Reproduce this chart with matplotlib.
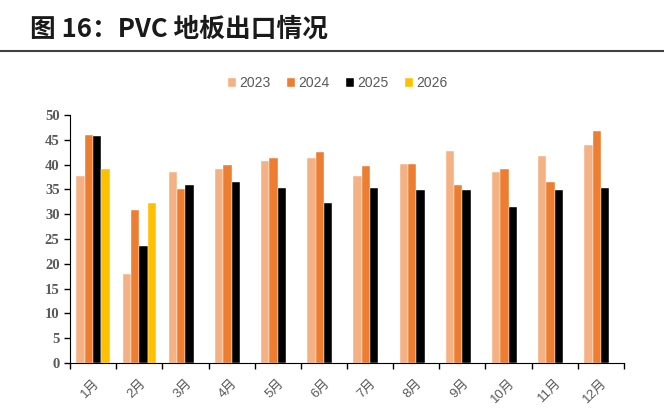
import numpy as np
import matplotlib
matplotlib.use("Agg")
import matplotlib.pyplot as plt
from matplotlib.lines import Line2D

months = ["1月", "2月", "3月", "4月", "5月", "6月", "7月", "8月", "9月", "10月", "11月", "12月"]
years = ["2023", "2024", "2025", "2026"]
v2023 = [37.7, 18.0, 38.5, 39.2, 40.7, 41.3, 37.7, 40.2, 42.7, 38.5, 41.7, 44.0]
v2024 = [46.0, 30.8, 35.0, 40.0, 41.3, 42.5, 39.7, 40.2, 35.8, 39.2, 36.4, 46.7]
v2025 = [45.7, 23.5, 35.8, 36.4, 35.2, 32.2, 35.2, 34.8, 34.8, 31.5, 34.8, 35.2]
v2026 = [39.2, 32.2] + [np.nan] * 10
colors = ["#F4B183", "#ED7D31", "#000000", "#FFC000"]
yticks = list(range(0, 55, 5))

plt.rcParams['font.family'] = ['Liberation Sans', 'Noto Sans CJK SC', 'DejaVu Sans']

fig = plt.figure(figsize=(6.64, 4.18), dpi=100)
ax = fig.add_axes([70/664, 1-363/418, (624-70)/664, (363-115)/418])

x = np.arange(len(months))
w = 0.181
series = [v2023, v2024, v2025, v2026]
for i, (vals, c, lab) in enumerate(zip(series, colors, years)):
    ax.bar(x + (i - 1.5) * w, vals, width=w, color=c, label=lab,
           edgecolor="white", linewidth=0.3)

ax.set_xlim(-0.5, len(months) - 0.5)
ax.set_ylim(0, 50)
ax.set_yticks(yticks)
ax.set_yticklabels([str(t) for t in yticks], family="Liberation Serif",
                   fontweight="bold", fontsize=10.5, color="#595959")
ax.set_xticks(x)
ax.set_xticklabels(months, rotation=45, ha="right", rotation_mode="anchor",
                   fontsize=9.5, color="#595959")
ax.set_xticks(np.arange(-0.5, len(months) + 0.5, 1), minor=True)
ax.tick_params(axis="x", which="major", length=0, pad=10)
ax.tick_params(axis="x", which="minor", length=4, width=1, color="black", direction="out")
ax.tick_params(axis="y", length=4, width=1, color="black", direction="out")
for s in ["top", "right"]:
    ax.spines[s].set_visible(False)
ax.spines["left"].set_color("black")
ax.spines["bottom"].set_color("black")

leg = ax.legend(loc="center", bbox_to_anchor=(0.483, 1 + 32/248), ncol=4, frameon=False,
                fontsize=10, handlelength=0.6, handleheight=0.6, handletextpad=0.2,
                columnspacing=1.2, labelcolor="#595959")

fig.text(30/664, 1-29/418, "图 16：PVC 地板出口情况", fontsize=18.5, fontweight="bold",
         va="center", ha="left", color="#1a1a1a",
         family=["Noto Sans CJK SC", "DejaVu Sans"])
fig.add_artist(Line2D([0, 1], [1-51/418, 1-51/418], color="#404040", linewidth=1.5,
                      transform=fig.transFigure))

fig.savefig("out.png", dpi=100)
